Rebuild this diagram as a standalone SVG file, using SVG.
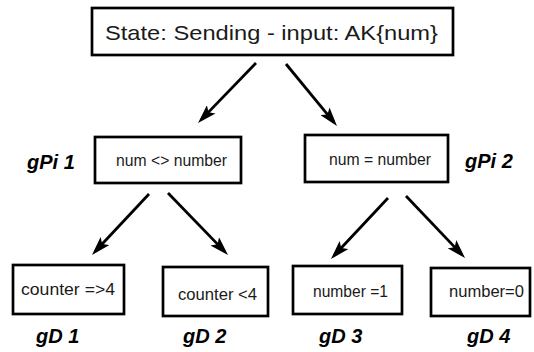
<svg xmlns="http://www.w3.org/2000/svg" width="534" height="352" viewBox="0 0 534 352">
<style>
.box{fill:#fff;stroke:#000;stroke-width:2.7}
.t{font-family:"Liberation Sans",Arial,sans-serif;font-size:16px;fill:#1a1a1a}
.big{font-size:21px}
.lbl{font-family:"Liberation Sans",Arial,sans-serif;font-size:20px;font-weight:bold;font-style:italic;fill:#000}
.arr{stroke:#000;stroke-width:2.8;fill:none;marker-end:url(#ah)}
</style>
<defs>
<marker id="ah" markerUnits="userSpaceOnUse" viewBox="0 0 19 12" markerWidth="19" markerHeight="12" refX="14" refY="6" orient="auto">
<path d="M0,0 L19,6 L0,12 L4,6 z" fill="#000"/>
</marker>
</defs>
<rect width="534" height="352" fill="#fff"/>
<g id="connectors">
<line class="arr" x1="256" y1="63" x2="201.5" y2="119.4"/>
<line class="arr" x1="286" y1="64" x2="333.8" y2="122.1"/>
<line class="arr" x1="149" y1="194" x2="95.4" y2="251.3"/>
<line class="arr" x1="168" y1="193" x2="224.5" y2="251.4"/>
<line class="arr" x1="388" y1="198" x2="334.4" y2="255.3"/>
<line class="arr" x1="406" y1="196" x2="461.6" y2="254.4"/>
</g>
<g id="state">
<rect class="box" x="92" y="8" width="361" height="47"/>
<text class="t big" x="105" y="40" textLength="333" lengthAdjust="spacingAndGlyphs">State: Sending - input: AK{num}</text>
</g>
<g id="gPi1">
<rect class="box" x="95" y="137" width="146" height="46"/>
<text class="t" x="116" y="166" textLength="111" lengthAdjust="spacingAndGlyphs">num &lt;&gt; number</text>
<text class="lbl" x="27" y="169">gPi 1</text>
</g>
<g id="gPi2">
<rect class="box" x="305" y="135" width="143" height="47"/>
<text class="t" x="329" y="165" textLength="102" lengthAdjust="spacingAndGlyphs">num = number</text>
<text class="lbl" x="465" y="168">gPi 2</text>
</g>
<g id="gD1">
<rect class="box" x="13" y="265" width="111" height="49"/>
<text class="t" x="21" y="295" textLength="94" lengthAdjust="spacingAndGlyphs">counter =&gt;4</text>
<text class="lbl" x="36" y="343">gD 1</text>
</g>
<g id="gD2">
<rect class="box" x="163" y="267" width="105" height="49"/>
<text class="t" x="178" y="300" textLength="79" lengthAdjust="spacingAndGlyphs">counter &lt;4</text>
<text class="lbl" x="183" y="343">gD 2</text>
</g>
<g id="gD3">
<rect class="box" x="293" y="266" width="109" height="48"/>
<text class="t" x="313" y="297" textLength="75" lengthAdjust="spacingAndGlyphs">number =1</text>
<text class="lbl" x="319" y="343">gD 3</text>
</g>
<g id="gD4">
<rect class="box" x="431" y="268" width="99" height="48"/>
<text class="t" x="449" y="297" textLength="75" lengthAdjust="spacingAndGlyphs">number=0</text>
<text class="lbl" x="467" y="343">gD 4</text>
</g>
</svg>
